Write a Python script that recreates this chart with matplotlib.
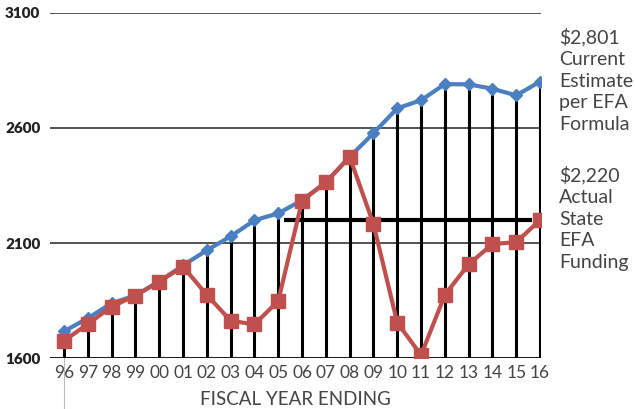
import matplotlib.pyplot as plt

YEARS = ["96", "97", "98", "99", "00", "01", "02", "03", "04", "05", "06",
         "07", "08", "09", "10", "11", "12", "13", "14", "15", "16"]
FORMULA = [1717, 1774, 1839, 1873, 1934, 2003, 2069, 2129, 2199, 2229, 2286,
           2364, 2474, 2577, 2685, 2720, 2790, 2789, 2770, 2741, 2801]
ACTUAL = [1676, 1749, 1824, 1872, 1933, 1998, 1875, 1763, 1747, 1849, 2283,
          2364, 2474, 2183, 1755, 1614, 1875, 2008, 2096, 2104, 2200]
Y_TICKS = [1600, 2100, 2600, 3100]
CURRENT_LEVEL = 2200

BLUE = "#4a7fc1"
RED = "#c0504d"
TEXT = "#444444"

fig = plt.figure(figsize=(6.35, 4.09), dpi=100)
ax = fig.add_axes([50 / 635, (409 - 358.3) / 409, 491 / 635, (358.3 - 12.7) / 409])

x = list(range(len(YEARS)))

# gridlines
for v in Y_TICKS[1:]:
    ax.axhline(v, color="#444444", lw=1.3, zorder=1)
ax.axhline(Y_TICKS[0], color="black", lw=2, zorder=2)

# drop lines from the formula points
ax.vlines(x, Y_TICKS[0], FORMULA, color="black", lw=2.2, zorder=2)

# current funding level line
ax.hlines(CURRENT_LEVEL, 9.25, 19.66, color="black", lw=3, zorder=3)

ax.plot(x, FORMULA, color=BLUE, lw=3, marker="D", ms=6.5, zorder=4)
ax.plot(x, ACTUAL, color=RED, lw=3, marker="s", ms=10.5, zorder=5)

ax.set_xlim(-0.59, 20.04)
ax.set_ylim(1600, 3100)

for s in ax.spines.values():
    s.set_visible(False)
ax.tick_params(length=0)
ax.set_yticks(Y_TICKS)
ax.set_yticklabels([str(v) for v in Y_TICKS], fontsize=11, fontweight="heavy",
                   fontfamily="Lato", color="#222222")
ax.tick_params(axis="y", pad=7)
ax.set_xticks(x)
ax.set_xticklabels(YEARS, fontsize=12.5, fontfamily="Lato", color=TEXT)
ax.tick_params(axis="x", pad=5)
ax.set_xlabel("FISCAL YEAR ENDING", fontsize=13.5, fontfamily="Lato",
              color=TEXT, labelpad=7)

# thin reference line below first year
fig.add_artist(plt.Line2D([64 / 635, 64 / 635], [0, (409 - 358.3) / 409],
                          color="#bbbbbb", lw=0.8))

fig.text(559 / 635, 1 - 28 / 409, "$2,801\nCurrent\nEstimate\nper EFA\nFormula",
         fontsize=14, fontfamily="Lato", color=TEXT, va="top", linespacing=1.32)
fig.text(559 / 635, 1 - 166 / 409, "$2,220\nActual\nState\nEFA\nFunding",
         fontsize=14, fontfamily="Lato", color=TEXT, va="top", linespacing=1.32)

fig.savefig("out.png", dpi=100)
